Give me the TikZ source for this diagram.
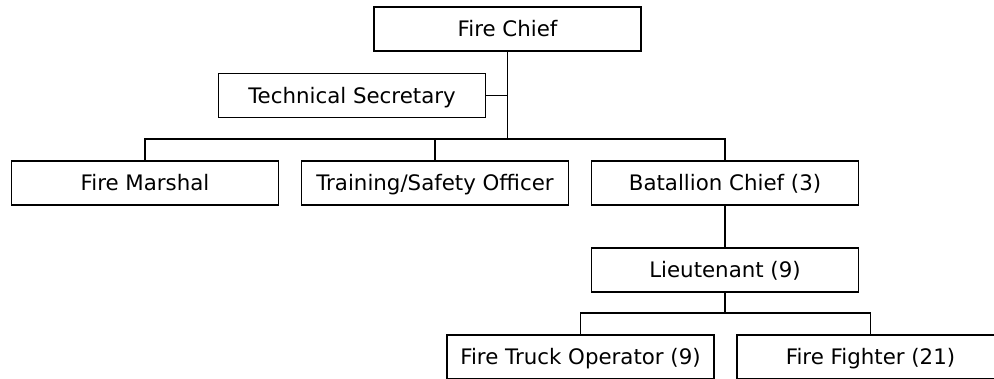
\documentclass[tikz,border=0pt]{standalone}
\usepackage{fontspec}
\setmainfont{DejaVu Sans}
\usepackage{tikz}

\tikzset{post/.style={draw, line width=1.1pt, minimum width=200pt, minimum height=33pt, inner sep=0pt, text height=11.7pt, text depth=0pt, font=\fontsize{16}{18}\selectfont},
 link/.style={line width=1.1pt}}

\begin{document}
\begin{tikzpicture}[x=0.75pt,y=-0.75pt]
\useasboundingbox (0,0) rectangle (994,378);
\clip (0,0) rectangle (994,378);
\fill [white] (0,0) rectangle (994,378);
\coordinate (busA) at (507.5,139);
\coordinate (busB) at (725,313);
\node [post] (chief) at (507.5,29) {Fire Chief};
\node [post] (secr) at (352,95.5) {Technical Secretary};
\node [post] (marshal) at (145,183) {Fire Marshal};
\node [post] (safety) at (435,183) {Training/Safety Officer};
\node [post] (bchief) at (725,183) {Batallion Chief (3)};
\node [post] (lieut) at (725,270) {Lieutenant (9)};
\node [post] (operator) at (580.5,357) {Fire Truck Operator (9)};
\node [post] (fighter) at (870.5,357) {Fire Fighter (21)};
\draw [link] (chief.south) -- (busA);
\draw [link] (secr.east) -- (secr.east -| busA);
\draw [link] (marshal.north) |- (busA) -| (bchief.north);
\draw [link] (safety.north) -- (safety.north |- busA);
\draw [link] (bchief.south) -- (lieut.north);
\draw [link] (lieut.south) -- (busB);
\draw [link] (operator.north) |- (busB) -| (fighter.north);
\end{tikzpicture}
\end{document}
